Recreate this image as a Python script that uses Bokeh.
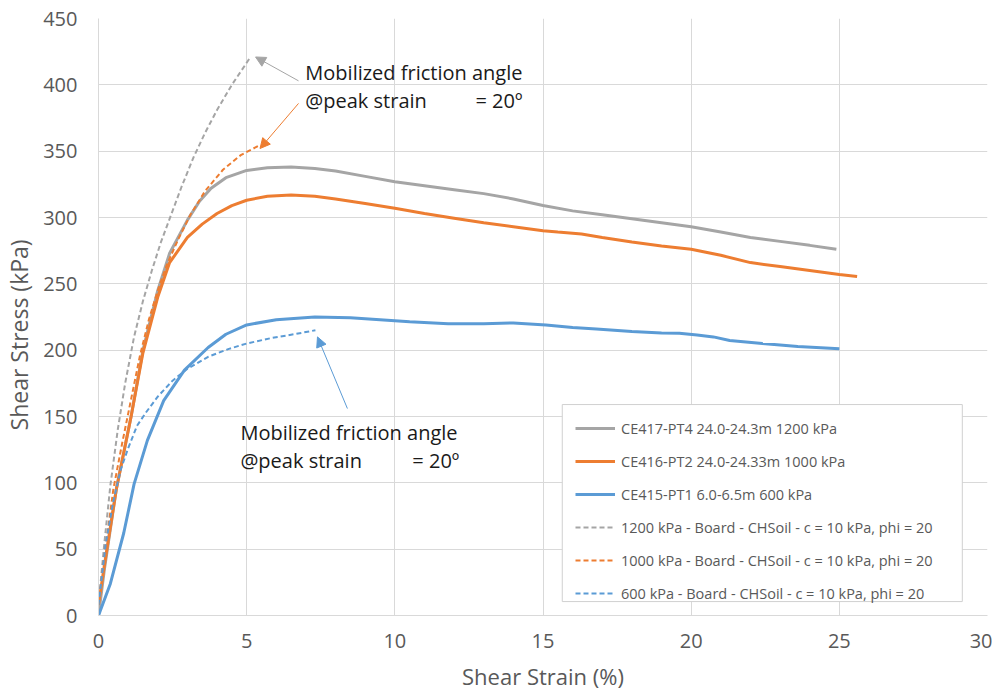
from bokeh.plotting import figure
from bokeh.models import (Legend, LegendItem, Label, Arrow, NormalHead, FixedTicker,
                          Range1d, BoxAnnotation)
from bokeh.embed import file_html
from bokeh.resources import INLINE

# ---------------- data ----------------
pt4_x = [0, 0.2, 0.6, 1.1, 1.5, 2.0, 2.4, 3.0, 3.4, 3.8, 4.3, 5.0, 5.7, 6.5, 7.3, 8.0, 9.0,
         10.0, 11.0, 12.0, 13.0, 14.0, 15.0, 16.0, 17.0, 18.0, 19.0, 20.0, 21.0, 22.0,
         23.0, 24.0, 24.9]
pt4_y = [0, 35, 95, 150, 200, 245, 273, 298, 312, 322, 330, 335.5, 337.5, 338, 337, 335, 331,
         327, 324, 321, 318, 314, 309, 305, 302, 299, 296, 293, 289, 285,
         282, 279, 276]

pt2_x = [0, 0.2, 0.6, 1.1, 1.5, 2.0, 2.4, 3.0, 3.5, 4.0, 4.5, 5.0, 5.7, 6.5, 7.3, 8.0, 9.0,
         10.0, 11.0, 12.0, 13.0, 14.0, 15.0, 15.5, 16.3, 17.0, 18.0, 19.0, 20.0, 21.0,
         22.0, 23.0, 24.0, 25.0, 25.6]
pt2_y = [8, 38, 95, 150, 198, 240, 266, 285, 295, 303, 309, 313, 316, 317, 316, 314, 310.5,
         307, 303, 299.5, 296, 293, 290, 289, 287.5, 285, 281.5, 278.5, 276, 271.5,
         266, 263, 260, 257, 255.5]

pt1_x = [0, 0.4, 0.85, 1.2, 1.65, 2.2, 2.9, 3.7, 4.3, 5.0, 6.0, 7.3, 8.5, 9.5, 10.5, 11.8,
         13.0, 14.0, 15.1, 16.0, 16.8, 18.0, 19.0, 19.6, 20.2, 20.75, 21.3, 22.4, 23.6, 25.0]
pt1_y = [0, 24, 62, 99, 132, 162, 185, 202, 212, 219, 223, 225, 224.5, 223, 221.5, 220,
         220, 220.5, 219, 217, 216, 214, 213, 212.8, 211.5, 210, 207.3, 205, 202.7, 201]

b1200_x = [0, 0.2, 0.4, 0.65, 0.9, 1.2, 1.5, 1.8, 2.1, 2.45, 2.8, 3.2, 3.6, 4.0, 4.5, 5.13]
b1200_y = [8, 55, 98, 140, 175, 210, 237, 260, 281, 302, 323, 345, 364, 381, 400, 421]

b1000_x = [0, 0.2, 0.5, 0.8, 1.1, 1.4, 1.7, 2.0, 2.3, 2.7, 3.1, 3.6, 4.2, 4.8, 5.4]
b1000_y = [8, 45, 95, 130, 163, 196, 223, 245, 264, 284, 302, 320, 336, 347, 354]

b600_x = [0, 0.25, 0.5, 0.75, 1.0, 1.3, 1.6, 2.0, 2.5, 3.0, 3.7, 4.4, 5.0, 5.8, 6.6, 7.32]
b600_y = [8, 55, 86, 110, 126, 143, 153, 165, 177, 186, 195, 201, 205, 209, 212, 215]

labels = ["CE417-PT4 24.0-24.3m 1200 kPa",
          "CE416-PT2 24.0-24.33m 1000 kPa",
          "CE415-PT1 6.0-6.5m 600 kPa",
          "1200 kPa - Board - CHSoil - c = 10 kPa, phi = 20",
          "1000 kPa - Board - CHSoil - c = 10 kPa, phi = 20",
          "600 kPa - Board - CHSoil - c = 10 kPa, phi = 20"]

x_ticks = [0, 5, 10, 15, 20, 25, 30]
y_ticks = [0, 50, 100, 150, 200, 250, 300, 350, 400, 450]

GRAY = "#a5a5a5"
ORANGE = "#ed7d31"
BLUE = "#5b9bd5"
FONT = "Open Sans"

p = figure(frame_width=889, frame_height=597, x_range=Range1d(0, 30), y_range=Range1d(0, 450),
           output_backend="svg", toolbar_location=None,
           min_border_left=98, min_border_right=5, min_border_top=18, min_border_bottom=78)
p.outline_line_color = None
p.background_fill_color = "white"
p.border_fill_color = "white"

p.xaxis.ticker = FixedTicker(ticks=x_ticks)
p.yaxis.ticker = FixedTicker(ticks=y_ticks)
p.xgrid.ticker = FixedTicker(ticks=x_ticks)
p.ygrid.ticker = FixedTicker(ticks=y_ticks)
for g in (p.xgrid, p.ygrid):
    g.grid_line_color = "#d9d9d9"
    g.grid_line_width = 1

for ax in (p.xaxis, p.yaxis):
    ax.axis_line_color = "#d9d9d9"
    ax.major_tick_line_color = None
    ax.minor_tick_line_color = None
    ax.major_tick_out = 0
    ax.major_tick_in = 0
    ax.minor_tick_out = 0
    ax.major_label_text_font = FONT
    ax.major_label_text_font_size = "20px"
    ax.major_label_text_color = "#595959"
    ax.axis_label_text_font = FONT
    ax.axis_label_text_font_size = "22px"
    ax.axis_label_text_font_style = "normal"
    ax.axis_label_text_color = "#595959"

p.xaxis.axis_label = "Shear Strain (%)"
p.xaxis.major_label_standoff = 18
p.xaxis.axis_label_standoff = 10
# trailing no-break spaces shift the title slightly below the middle, as in the reference
p.yaxis.axis_label = "Shear Stress (kPa)" + "\u00a0" * 6
p.yaxis.axis_label_text_font_size = "23px"
p.yaxis.major_label_standoff = 21
p.yaxis.axis_label_standoff = 5

# white patches hiding parts of grid (as in reference)
p.quad(left=[20.07, 20.07, 24.9, 24.9], right=[29.35, 29.35, 25.1, 25.1],
       bottom=[298.5, 248.5, 294, 231], top=[301.5, 251.5, 309, 254],
       fill_color="white", line_color=None, level="underlay")

r1 = p.line(pt4_x, pt4_y, line_color=GRAY, line_width=3)
r2 = p.line(pt2_x, pt2_y, line_color=ORANGE, line_width=3)
r3 = p.line(pt1_x, pt1_y, line_color=BLUE, line_width=3)
r4 = p.line(b1200_x, b1200_y, line_color=GRAY, line_width=2, line_dash="5 3")
r5 = p.line(b1000_x, b1000_y, line_color=ORANGE, line_width=2, line_dash="5 3")
r6 = p.line(b600_x, b600_y, line_color=BLUE, line_width=2, line_dash="5 3")

# legend frame
p.add_layout(BoxAnnotation(left=15.65, right=29.15, bottom=10.5, top=159.0,
                           fill_color="white", fill_alpha=1,
                           line_color="#d0d0d0", line_width=1, line_alpha=1))

legend = Legend(items=[LegendItem(label=l, renderers=[r]) for l, r in
                       zip(labels, [r1, r2, r3, r4, r5, r6])],
                location=(477, 12))
legend.label_text_font = FONT
legend.label_text_font_size = "14.5px"
legend.label_text_color = "#595959"
legend.glyph_width = 40
legend.glyph_height = 20
legend.label_height = 20
legend.spacing = 13
legend.padding = 7
legend.margin = 0
legend.label_standoff = 6
legend.border_line_color = None
legend.background_fill_alpha = 0
p.add_layout(legend)

# annotations
arrow_specs = [  # (x_start, y_start, x_end, y_end, color)
    (6.75, 403, 5.3, 421, GRAY),
    (6.75, 386, 5.45, 352, ORANGE),
    (8.4, 156, 7.39, 210, BLUE),
]
for xs, ys, xe, ye, c in arrow_specs:
    p.add_layout(Arrow(end=NormalHead(size=10, fill_color=c, line_color=c),
                       x_start=xs, y_start=ys, x_end=xe, y_end=ye,
                       line_color=c, line_width=1))

text_specs = [  # (x, y, text)
    (6.98, 409.3, "Mobilized friction angle"),
    (6.98, 388.2, "@peak strain"),
    (12.72, 388.2, "= 20\u00ba"),
    (4.79, 137.9, "Mobilized friction angle"),
    (4.79, 116.8, "@peak strain"),
    (10.59, 116.8, "= 20\u00ba"),
]
for tx, ty, tt in text_specs:
    p.add_layout(Label(x=tx, y=ty, text=tt, text_font=FONT, text_font_size="20px",
                       text_color="#1a1a1a", text_baseline="middle", text_align="left"))

open("out.html", "w").write(file_html(p, INLINE))
